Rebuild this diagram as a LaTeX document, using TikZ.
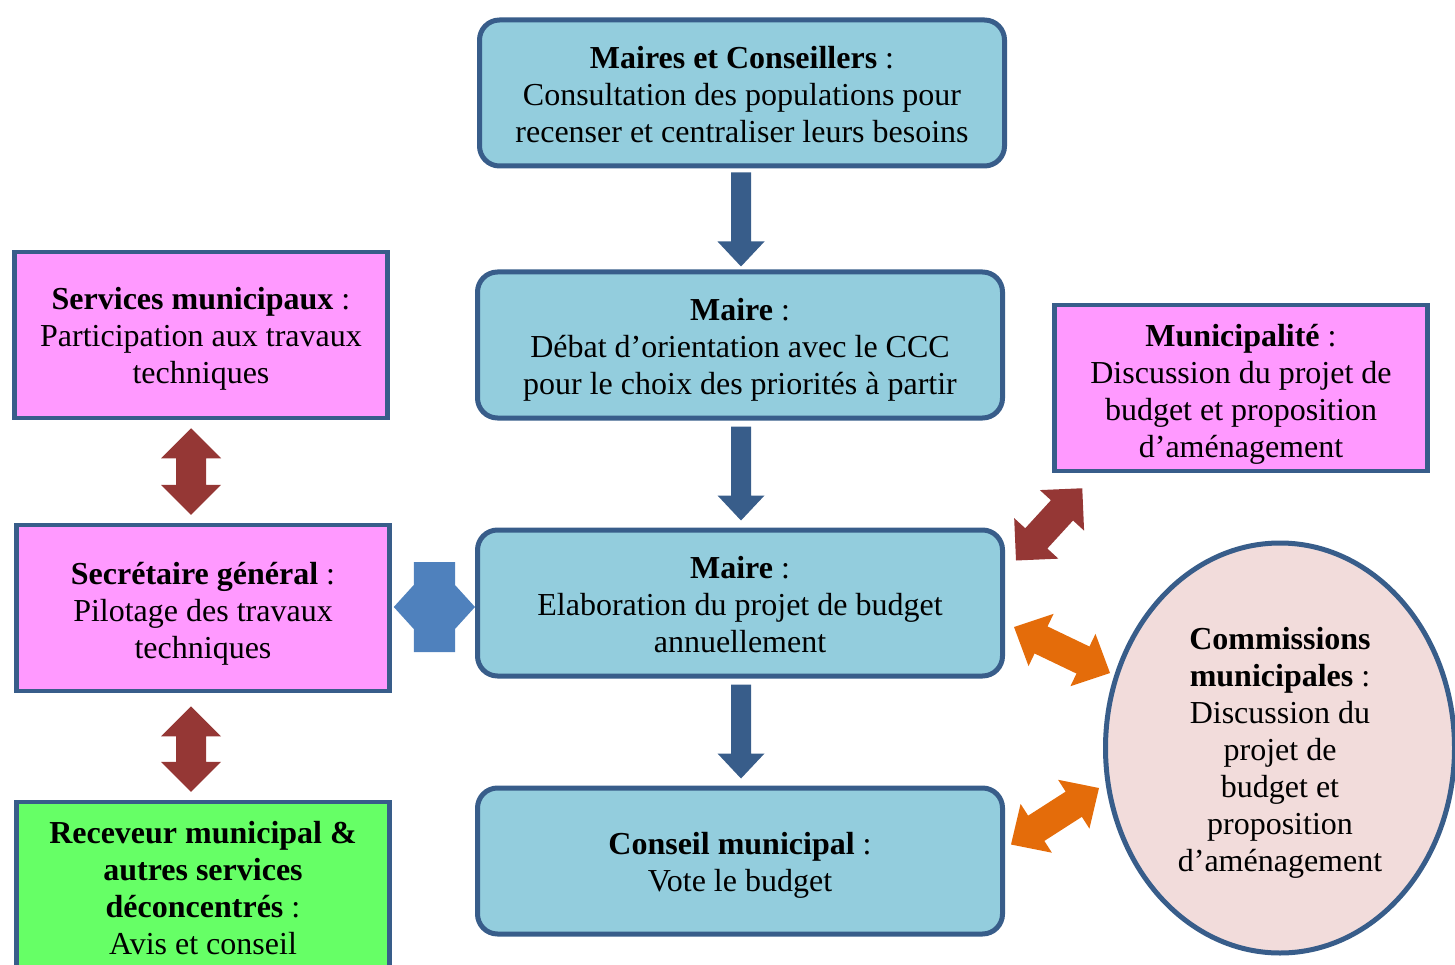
\documentclass[tikz,border=0pt]{standalone}
\usepackage{fontspec}
\setmainfont{Liberation Serif}
\usetikzlibrary{calc, shapes.geometric}

\definecolor{boxblue}{HTML}{93CDDD}
\definecolor{edgeblue}{HTML}{385D8A}
\definecolor{boxpink}{HTML}{FF99FF}
\definecolor{boxgreen}{HTML}{66FF66}
\definecolor{ellpink}{HTML}{F2DCDB}
\definecolor{arrbrown}{HTML}{953735}
\definecolor{arrlight}{HTML}{4F81BD}
\definecolor{arrorange}{HTML}{E46C0A}

% first-line strut, pushes the text a little down
\newcommand{\tstrut}[1]{\rule{0pt}{#1}}
% block arrow: colour, tail, tip, half shaft, half head, head length
\newcommand{\onearrow}[6]{%
	\coordinate (hb) at ($(#3)!#6!(#2)$);
	\fill[#1] ($(#2)!#4!90:(#3)$) -- ($(hb)!#4!90:(#3)$) -- ($(hb)!#5!90:(#3)$) -- (#3)
		-- ($(hb)!#5!-90:(#3)$) -- ($(hb)!#4!-90:(#3)$) -- ($(#2)!#4!-90:(#3)$) -- cycle;}
% block arrow with two heads
\newcommand{\twoarrow}[6]{%
	\coordinate (ha) at ($(#2)!#6!(#3)$);
	\coordinate (hb) at ($(#3)!#6!(#2)$);
	\fill[#1] (#2) -- ($(ha)!#5!90:(#3)$) -- ($(ha)!#4!90:(#3)$) -- ($(hb)!#4!90:(#3)$)
		-- ($(hb)!#5!90:(#3)$) -- (#3) -- ($(hb)!#5!-90:(#3)$) -- ($(hb)!#4!-90:(#3)$)
		-- ($(ha)!#4!-90:(#3)$) -- ($(ha)!#5!-90:(#3)$) -- cycle;}

\begin{document}
\begin{tikzpicture}[x=1pt, y=-1pt]
	\tikzstyle{txt}=[align=center, inner sep=0pt, font=\fontsize{32}{37}\selectfont]
	\tikzstyle{bbox}=[txt, draw=edgeblue, line width=5pt, fill=boxblue, rounded corners=20pt,
		minimum width=525pt, minimum height=146pt]
	\tikzstyle{pbox}=[txt, draw=edgeblue, line width=4.5pt, fill=boxpink,
		minimum width=373pt, minimum height=166pt]
	\clip (0,0) rectangle (1455,965);
		\node[bbox] (consult) at (742,93) {\tstrut{26pt}\textbf{Maires et Conseillers} :\\Consultation des populations pour\\recenser et centraliser leurs besoins};
		\node[bbox] (orient) at (740,345) {\tstrut{32pt}\textbf{Maire} :\\Débat d’orientation avec le CCC\\pour le choix des priorités à partir};
		\node[bbox] (elab) at (740,603) {\tstrut{26pt}\textbf{Maire} :\\Elaboration du projet de budget\\annuellement};
		\node[bbox] (vote) at (740,861) {\tstrut{30pt}\textbf{Conseil municipal} :\\Vote le budget};
		
		\node[pbox] (serv) at (201,335) {\tstrut{30pt}\textbf{Services municipaux} :\\Participation aux travaux\\techniques};
		\node[pbox] (sec) at (203,608) {\tstrut{34pt}\textbf{Secrétaire général} :\\Pilotage des travaux\\techniques};
		\node[pbox, fill=boxgreen, minimum height=170pt] (recv) at (203,887) {\tstrut{24pt}\textbf{Receveur municipal \&}\\\textbf{autres services}\\\textbf{déconcentrés} :\\Avis et conseil};
		\node[pbox] (muni) at (1241,388) {\tstrut{34pt}\textbf{Municipalité} :\\Discussion du projet de\\budget et proposition\\d’aménagement};
		
		\node[txt, ellipse, draw=edgeblue, line width=5pt, fill=ellpink,
			minimum width=349pt, minimum height=410pt] (comm) at (1280,748)
			{\tstrut{32pt}\textbf{Commissions}\\\textbf{municipales} :\\Discussion du\\projet de\\budget et\\proposition\\d’aménagement};
		
		%========================================================================
		% Arrows
		\coordinate (d1a) at ($(consult.south -| orient.north)+(1,4)$);
		\coordinate (d1b) at ($(orient.north)+(1,-3)$);
		\coordinate (d2a) at ($(orient.south)+(1,6)$);
		\coordinate (d2b) at ($(elab.north)+(1,-7)$);
		\coordinate (d3a) at ($(elab.south)+(1,6)$);
		\coordinate (d3b) at ($(vote.north)+(1,-7)$);
		\onearrow{edgeblue}{d1a}{d1b}{10pt}{23.5pt}{25pt}
		\onearrow{edgeblue}{d2a}{d2b}{10pt}{23.5pt}{25pt}
		\onearrow{edgeblue}{d3a}{d3b}{10pt}{23.5pt}{25pt}
		
		\coordinate (s1a) at ([xshift=-10pt, yshift=-8pt]serv.south);
		\coordinate (s1b) at ([xshift=-12pt, yshift=8pt]sec.north);
		\coordinate (s2a) at ([xshift=-12pt, yshift=-13pt]sec.south);
		\coordinate (s2b) at ([xshift=-12pt, yshift=8pt]recv.north);
		\twoarrow{arrbrown}{s1a}{s1b}{15pt}{30pt}{30pt}
		\twoarrow{arrbrown}{s2a}{s2b}{15pt}{30pt}{30pt}
		
		\coordinate (ha1) at ([xshift=2pt, yshift=1pt]sec.east);
		\coordinate (ha2) at (elab.west |- ha1);
		\twoarrow{arrlight}{ha1}{ha2}{45pt}{22pt}{20pt}
		
		\coordinate (m1) at ([xshift=11pt, yshift=-33pt]elab.north east);
		\coordinate (m2) at ([xshift=30pt, yshift=-15pt]muni.south west);
		\twoarrow{arrbrown}{m1}{m2}{15pt}{30pt}{30pt}
		
		\coordinate (c1a) at ([xshift=9pt, yshift=-24pt]elab.east);
		\coordinate (c1b) at ([xshift=7pt, yshift=75pt]comm.west);
		\coordinate (c2a) at ([xshift=6pt, yshift=-59pt]vote.north east);
		\coordinate (c2b) at ([xshift=-4pt, yshift=-40pt]comm.west);
		\twoarrow{arrorange}{c1a}{c1b}{15pt}{29pt}{30pt}
		\twoarrow{arrorange}{c2a}{c2b}{15pt}{29pt}{30pt}
\end{tikzpicture}
\end{document}
